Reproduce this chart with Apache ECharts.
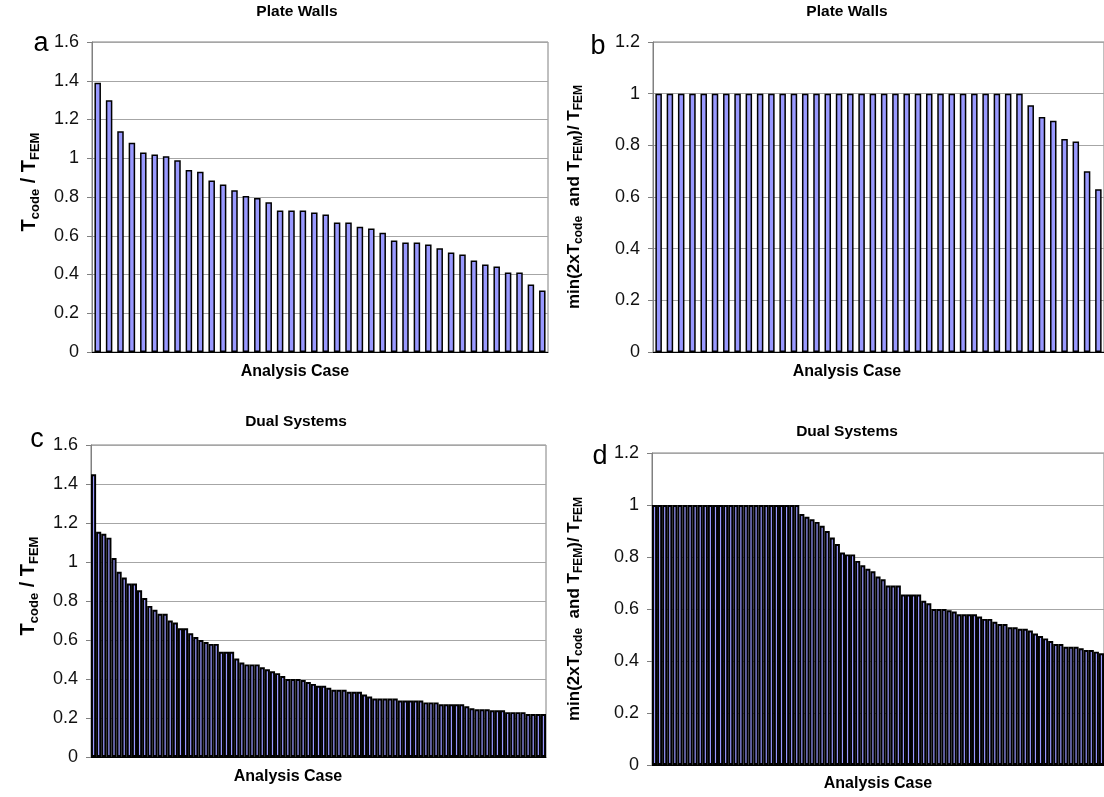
<!DOCTYPE html>
<html>
<head>
<meta charset="utf-8">
<script src="https://cdn.jsdelivr.net/npm/echarts@6/dist/echarts.min.js"></script>
<style>
html,body{margin:0;padding:0;background:#fff;}
#chart{width:1104px;height:797px;}
</style>
</head>
<body>
<div id="chart"></div>
<script>
// ---- data ----
const plateCodeRatio = [1.39, 1.30, 1.14, 1.08, 1.03, 1.02, 1.01, 0.99, 0.94, 0.93, 0.885, 0.865, 0.835, 0.805, 0.795, 0.773, 0.73, 0.73, 0.73, 0.72, 0.71, 0.668, 0.668, 0.647, 0.637, 0.616, 0.575, 0.565, 0.565, 0.555, 0.535, 0.513, 0.503, 0.472, 0.452, 0.441, 0.41, 0.41, 0.348, 0.318];
const plateMinRatio = [1, 1, 1, 1, 1, 1, 1, 1, 1, 1, 1, 1, 1, 1, 1, 1, 1, 1, 1, 1, 1, 1, 1, 1, 1, 1, 1, 1, 1, 1, 1, 1, 1, 0.955, 0.91, 0.895, 0.825, 0.815, 0.70, 0.63];
const dualCodeRatio = [1.45, 1.155, 1.145, 1.125, 1.02, 0.95, 0.92, 0.89, 0.89, 0.855, 0.815, 0.775, 0.755, 0.735, 0.735, 0.70, 0.69, 0.66, 0.66, 0.635, 0.615, 0.60, 0.59, 0.58, 0.58, 0.54, 0.54, 0.54, 0.505, 0.485, 0.475, 0.475, 0.475, 0.46, 0.45, 0.44, 0.43, 0.415, 0.40, 0.40, 0.40, 0.395, 0.385, 0.375,
  0.365, 0.365, 0.355, 0.345, 0.345, 0.345, 0.335, 0.335, 0.335, 0.32, 0.31, 0.30, 0.30, 0.30, 0.30, 0.30, 0.29, 0.29, 0.29, 0.29, 0.29, 0.28, 0.28, 0.28, 0.27, 0.27, 0.27, 0.27, 0.27, 0.26, 0.25, 0.245, 0.245, 0.245, 0.24, 0.24, 0.24, 0.23, 0.23, 0.23, 0.23, 0.22, 0.22, 0.22, 0.22];
const dualMinRatio = [1, 1, 1, 1, 1, 1, 1, 1, 1, 1, 1, 1, 1, 1, 1, 1, 1, 1, 1, 1, 1, 1, 1, 1, 1, 1, 1, 1, 1,
  0.965, 0.955, 0.945, 0.935, 0.92, 0.90, 0.875, 0.85, 0.817, 0.81, 0.81, 0.785, 0.768, 0.755, 0.745,
  0.725, 0.714, 0.69, 0.69, 0.69, 0.656, 0.656, 0.656, 0.656, 0.632, 0.622, 0.60, 0.60, 0.60, 0.595, 0.59, 0.58, 0.58, 0.58, 0.58, 0.571, 0.562, 0.562, 0.551, 0.542, 0.542, 0.53, 0.53, 0.524, 0.524, 0.517, 0.506, 0.496, 0.487, 0.477, 0.465, 0.465, 0.455, 0.455, 0.455, 0.449, 0.442, 0.442, 0.436, 0.43];
const casesPlate = plateCodeRatio.map((_, i) => String(i + 1));
const casesDual = dualCodeRatio.map((_, i) => String(i + 1));
const titlesText = ['Plate Walls', 'Plate Walls', 'Dual Systems', 'Dual Systems'];
const panelLetters = ['a', 'b', 'c', 'd'];
const xName = 'Analysis Case';

// ---- styling ----
const FONT = "'Liberation Sans', Arial, sans-serif";
const grids = [
  {left: 92, top: 42, width: 456, height: 310},
  {left: 653, top: 42, width: 456, height: 310},
  {left: 91, top: 445, width: 455, height: 312},
  {left: 652, top: 453, width: 456, height: 312}
];
const richCode = {
  t: {fontSize: 20, fontWeight: 'bold', fontFamily: FONT, color: '#000', lineHeight: 25},
  s: {fontSize: 13, fontWeight: 'bold', fontFamily: FONT, color: '#000', lineHeight: 13, verticalAlign: 'bottom'}
};
const richMin = {
  t: {fontSize: 17, fontWeight: 'bold', fontFamily: FONT, color: '#000', lineHeight: 22},
  s: {fontSize: 12, fontWeight: 'bold', fontFamily: FONT, color: '#000', lineHeight: 12, verticalAlign: 'bottom'}
};
const nameCode = '{t|T}{s|code}{t| / T}{s|FEM}';
const nameMin = '{t|min(2xT}{s|code}{t|  and T}{s|FEM}{t|)/ T}{s|FEM}';

function yAxis(idx, max, name, rich, gap, pad) {
  return {
    type: 'value', gridIndex: idx, min: 0, max: max, interval: 0.2,
    name: name, nameLocation: 'middle', nameRotate: 90, nameGap: gap,
    nameTextStyle: {rich: rich, padding: pad},
    axisLine: {show: true, lineStyle: {color: '#808080', width: 1}},
    axisTick: {show: true, inside: false, length: 5, lineStyle: {color: '#808080'}},
    axisLabel: {fontSize: 18, color: '#111', fontFamily: FONT, margin: 13},
    splitLine: {show: true, lineStyle: {color: '#a6a6a6', width: 1}}
  };
}
function xAxis(idx, cats) {
  return {
    type: 'category', gridIndex: idx, data: cats,
    axisLine: {show: true, lineStyle: {color: '#000', width: 1}},
    axisTick: {show: false}, axisLabel: {show: false}, splitLine: {show: false}
  };
}
function wideBars(idx, data) {
  return {
    type: 'bar', xAxisIndex: idx, yAxisIndex: idx, data: data, barWidth: 6.5,
    itemStyle: {color: '#9999ff', borderColor: '#000', borderWidth: 1.5},
    animation: false, silent: true
  };
}
function denseBars(idx, data) {
  return {
    type: 'bar', xAxisIndex: idx, yAxisIndex: idx, data: data, barCategoryGap: '0%',
    itemStyle: {color: '#9999ff', borderColor: '#000', borderWidth: 1.95},
    animation: false, silent: true
  };
}

const titlePos = [[297, 12], [847, 12], [296, 422], [847, 432]];
const letterPos = [[41, 44], [598, 47], [37, 440], [600, 457]];
const xNamePos = [[295, 372], [847, 372], [288, 777], [878, 784]];
const graphic = [];
titlesText.forEach((t, i) => graphic.push({
  type: 'text', x: titlePos[i][0], y: titlePos[i][1], silent: true,
  style: {text: t, font: 'bold 15.5px ' + FONT, fill: '#000', align: 'center', verticalAlign: 'middle'}
}));
panelLetters.forEach((t, i) => graphic.push({
  type: 'text', x: letterPos[i][0], y: letterPos[i][1], silent: true,
  style: {text: t, font: '27px ' + FONT, fill: '#000', align: 'center', verticalAlign: 'middle'}
}));
xNamePos.forEach((p) => graphic.push({
  type: 'text', x: p[0], y: p[1], silent: true,
  style: {text: xName, font: 'bold 16px ' + FONT, fill: '#000', align: 'center', verticalAlign: 'middle'}
}));

const chart = echarts.init(document.getElementById('chart'), null, {renderer: 'canvas'});
chart.setOption({
  backgroundColor: '#fff',
  animation: false,
  grid: grids.map(g => Object.assign({show: true, borderColor: '#808080', borderWidth: 1, backgroundColor: 'transparent'}, g)),
  xAxis: [xAxis(0, casesPlate), xAxis(1, casesPlate), xAxis(2, casesDual), xAxis(3, casesDual)],
  yAxis: [yAxis(0, 1.6, nameCode, richCode, 50, [0, 0, 0, 30]), yAxis(1, 1.2, nameMin, richMin, 68, [0, 0, 0, 0]),
          yAxis(2, 1.6, nameCode, richCode, 50, [0, 0, 0, 30]), yAxis(3, 1.2, nameMin, richMin, 67, [0, 0, 0, 0])],
  series: [wideBars(0, plateCodeRatio), wideBars(1, plateMinRatio), denseBars(2, dualCodeRatio), denseBars(3, dualMinRatio)],
  graphic: graphic
});
</script>
</body>
</html>
